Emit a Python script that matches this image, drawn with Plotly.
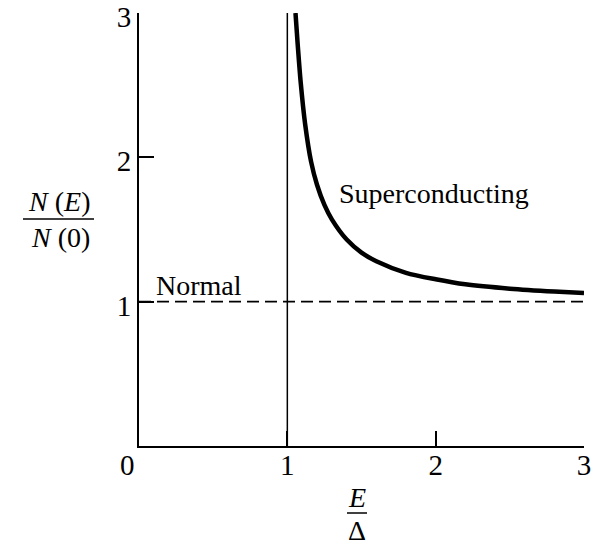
import plotly.graph_objects as go

# Data
energy = [1.055, 1.07, 1.09, 1.12, 1.16, 1.2, 1.25, 1.3, 1.4, 1.5, 1.6, 1.8, 2.0, 2.2, 2.5, 2.8, 3.0]
dos_super = [3.0, 2.78, 2.52, 2.23, 1.97, 1.81, 1.67, 1.57, 1.43, 1.34, 1.28, 1.20, 1.155, 1.12, 1.09, 1.07, 1.06]
normal_x = [0, 3]
normal_y = [1, 1]
x_ticks = [1, 2, 3]
y_ticks = [1, 2, 3]

FONT = "Liberation Serif, Times New Roman, serif"
FS = 28     # text size
TFS = 29    # tick label size

W, H = 595, 546
ML, MR, MT, MB = 139, 11, 13, 100
PW = W - ML - MR
PH = H - MT - MB


def px_x(x):
    return (x - ML) / PW


def px_y(y):
    return (H - MB - y) / PH


fig = go.Figure()
fig.add_trace(go.Scatter(x=normal_x, y=normal_y, mode="lines",
                         line=dict(color="black", width=1.6, dash="12px,6px"),
                         showlegend=False, hoverinfo="skip"))
fig.add_trace(go.Scatter(x=[1, 1], y=[0, 3], mode="lines",
                         line=dict(color="black", width=1.5),
                         showlegend=False, hoverinfo="skip"))
fig.add_trace(go.Scatter(x=energy, y=dos_super, mode="lines",
                         line=dict(color="black", width=4.5, shape="spline", smoothing=0.8),
                         showlegend=False, hoverinfo="skip"))


def pix_ann(text, x, y, size=FS):
    return dict(text=text, x=px_x(x), y=px_y(y), xref="paper", yref="paper",
                xanchor="center", yanchor="middle", showarrow=False,
                font=dict(family=FONT, size=size, color="black"))


fig.update_layout(
    width=W, height=H,
    margin=dict(l=ML, r=MR, t=MT, b=MB, autoexpand=False),
    plot_bgcolor="white", paper_bgcolor="white",
    font=dict(family=FONT, size=FS, color="black"),
    xaxis=dict(range=[0, 3], showgrid=False, zeroline=False, showline=True,
               linecolor="black", linewidth=2, ticks="inside", ticklen=15,
               tickwidth=1.8, tickcolor="black", tickvals=x_ticks,
               ticktext=[str(v) for v in x_ticks], ticklabeloverflow="allow",
               automargin=False,
               tickfont=dict(family=FONT, size=TFS), ticklabelstandoff=-8),
    yaxis=dict(range=[0, 3], showgrid=False, zeroline=False, showline=True,
               linecolor="black", linewidth=2, ticks="inside", ticklen=15,
               tickwidth=1.8, tickcolor="black", tickvals=y_ticks,
               ticktext=[str(v) for v in y_ticks], ticklabeloverflow="allow",
               automargin=False, ticklabelshift=4,
               tickfont=dict(family=FONT, size=TFS), ticklabelstandoff=0),
    annotations=[
        pix_ann("0", 127, 465, TFS),
        dict(text="Superconducting", x=1.99, y=1.75, xref="x", yref="y",
             xanchor="center", yanchor="middle", showarrow=False,
             font=dict(family=FONT, size=FS)),
        dict(text="Normal", x=0.1, y=1.11, xref="x", yref="y",
             xanchor="left", yanchor="middle", showarrow=False,
             font=dict(family=FONT, size=FS)),
        pix_ann("<i>N</i> (<i>E</i>)", 59, 202),
        pix_ann("<i>N</i> (0)", 60, 237),
        pix_ann("<i>E</i>", 357, 497),
        pix_ann("Δ", 357, 530),
    ],
)

# fraction bars
fig.add_shape(type="line", xref="paper", yref="paper",
              x0=px_x(23), x1=px_x(94), y0=px_y(219), y1=px_y(219),
              line=dict(color="black", width=1.5))
fig.add_shape(type="line", xref="paper", yref="paper",
              x0=px_x(347), x1=px_x(367), y0=px_y(513), y1=px_y(513),
              line=dict(color="black", width=1.5))

fig.write_html("out.html",
               config={"displayModeBar": False},
               post_script="document.body.style.margin='0px';document.body.style.overflow='hidden';")
